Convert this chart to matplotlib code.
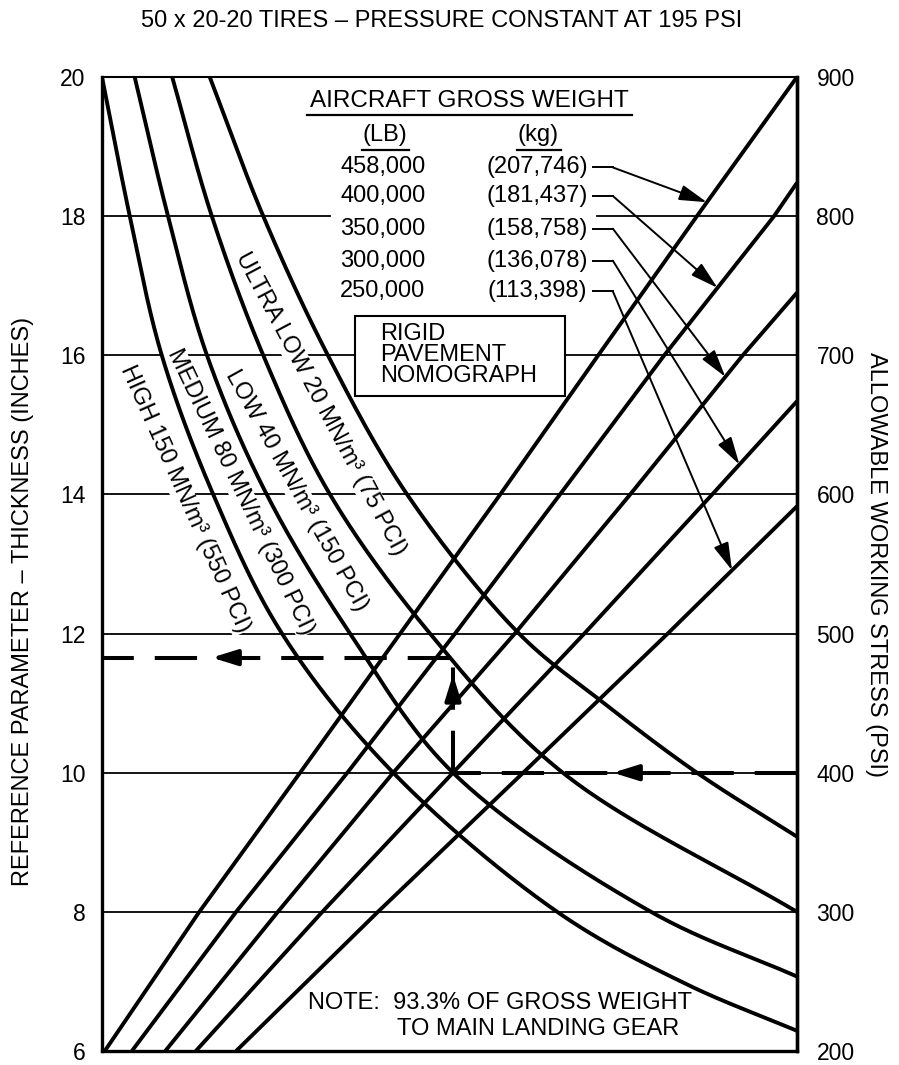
import numpy as np
import matplotlib
matplotlib.use("Agg")
import matplotlib.pyplot as plt
from matplotlib.patches import Rectangle

plt.rcParams['font.family'] = ['Liberation Sans', 'DejaVu Sans']
plt.rcParams['font.size'] = 17

# horizontal position runs 0..100 across the nomograph (no scale is printed)
# left scale: reference thickness (in), right scale: stress psi = 200 + 50*(t - 6)

# subgrade modulus curves: position across chart, thickness
high_x = [0, 4.0, 8.6, 16.0, 25.9, 41.9, 65.5, 83.9, 100]
high_t = [20, 18, 16, 14, 12, 10, 8, 6.97, 6.29]
med_x = [4.7, 9.5, 15.1, 23.7, 35.7, 50.5, 79.0, 100]
med_t = [20, 18, 16, 14, 12, 10, 8, 7.07]
low_x = [10.1, 15.8, 23.2, 32.8, 47.2, 66.3, 100]
low_t = [20, 18, 16, 14, 12, 10, 8.0]
ultra_x = [15.5, 23.2, 32.5, 43.9, 60.0, 71.7, 85.6, 100]
ultra_t = [20, 18, 16, 14, 12, 11.04, 10, 9.08]

subgrade_labels = ["HIGH 150 MN/m³ (550 PCI)", "MEDIUM 80 MN/m³ (300 PCI)",
                   "LOW 40 MN/m³ (150 PCI)", "ULTRA LOW 20 MN/m³ (75 PCI)"]

# gross weight lines
w1_x = [0.4, 14.0, 28.5, 42.9, 57.3, 71.4, 85.6, 100]
w1_t = [6, 8, 10, 12, 14, 16, 18, 20]
w2_x = [4.3, 19.3, 35.3, 50.8, 65.9, 80.9, 96.7, 100]
w2_t = [6, 8, 10, 12, 14, 16, 18, 18.48]
w3_x = [9.1, 25.3, 41.9, 59.4, 76.0, 92.2, 100]
w3_t = [6, 8, 10, 12, 14, 16, 16.9]
w4_x = [13.5, 31.7, 50.5, 69.4, 87.8, 100]
w4_t = [6, 8, 10, 12, 14, 15.34]
w5_x = [19.3, 39.7, 60.6, 81.4, 100]
w5_t = [6, 8, 10, 12, 13.83]

weight_lb = ["458,000", "400,000", "350,000", "300,000", "250,000"]
weight_kg = ["(207,746)", "(181,437)", "(158,758)", "(136,078)", "(113,398)"]
pointer_t = [18.2, 16.97, 15.69, 14.43, 12.91]   # where each pointer meets its line

example_psi = 400
example_line = 3      # 300,000 lb line
left_ticks = [6, 8, 10, 12, 14, 16, 18, 20]
right_ticks = [200, 300, 400, 500, 600, 700, 800, 900]


def smooth(xs, ys, n=40, alpha=0.5):
    # centripetal catmull-rom through the read points (t scaled ~ to screen proportions)
    P = np.column_stack([xs, np.asarray(ys, float) * 10.0])
    P = np.vstack([2 * P[0] - P[1], P, 2 * P[-1] - P[-2]])
    out = []
    for i in range(len(P) - 3):
        p0, p1, p2, p3 = P[i:i + 4]
        t0 = 0.0
        t1 = t0 + np.linalg.norm(p1 - p0) ** alpha
        t2 = t1 + np.linalg.norm(p2 - p1) ** alpha
        t3 = t2 + np.linalg.norm(p3 - p2) ** alpha
        t = np.linspace(t1, t2, n, endpoint=False)[:, None]
        a1 = (t1 - t) / (t1 - t0) * p0 + (t - t0) / (t1 - t0) * p1
        a2 = (t2 - t) / (t2 - t1) * p1 + (t - t1) / (t2 - t1) * p2
        a3 = (t3 - t) / (t3 - t2) * p2 + (t - t2) / (t3 - t2) * p3
        b1 = (t2 - t) / (t2 - t0) * a1 + (t - t0) / (t2 - t0) * a2
        b2 = (t3 - t) / (t3 - t1) * a2 + (t - t1) / (t3 - t1) * a3
        out.append((t2 - t) / (t2 - t1) * b1 + (t - t1) / (t2 - t1) * b2)
    out.append(P[-2][None])
    out = np.vstack(out)
    return out[:, 0], out[:, 1] / 10.0


fig = plt.figure(figsize=(8.99, 10.65), dpi=100)
ax = fig.add_axes([102 / 899, 14 / 1065, 695 / 899, 974 / 1065])
ax.set_xlim(0, 100)
ax.set_ylim(6, 20)

# grid lines (the 18 line is broken where the weight table sits)
for t in left_ticks[1:-1]:
    if t == 18:
        ax.plot([0, 32.8], [t, t], color='black', lw=1.3, zorder=1)
        ax.plot([71.2, 100], [t, t], color='black', lw=1.3, zorder=1)
    else:
        ax.plot([0, 100], [t, t], color='black', lw=1.3, zorder=1)

curves = [(high_x, high_t), (med_x, med_t), (low_x, low_t), (ultra_x, ultra_t)]
for cx, ct in curves:
    sx, st = smooth(cx, ct)
    ax.plot(sx, st, color='black', lw=2.8, zorder=3, solid_capstyle='butt')

weights = [(w1_x, w1_t), (w2_x, w2_t), (w3_x, w3_t), (w4_x, w4_t), (w5_x, w5_t)]
for wx, wt in weights:
    ax.plot(wx, wt, color='black', lw=2.8, zorder=3, solid_capstyle='butt')

# curve labels, sitting just left of their curve
label_pos = [(11.9, 13.93, -66.0), (19.9, 14.04, -64.5), (28.0, 14.05, -61.0), (31.5, 15.3, -62.0)]
for lab, (lx, lt, rot) in zip(subgrade_labels, label_pos):
    ax.text(lx, lt, lab, rotation=rot, rotation_mode='anchor', ha='center', va='center',
            fontsize=17, zorder=2,
            bbox=dict(facecolor='white', edgecolor='none', pad=0.5))

# weight table
ax.text(52.8, 19.66, "AIRCRAFT GROSS WEIGHT", ha='center', va='center', fontsize=17.5, zorder=4)
ax.plot([29.5, 76.2], [19.46, 19.46], color='black', lw=1.6, zorder=4)
ax.text(40.7, 19.16, "(LB)", ha='center', va='center', fontsize=17, zorder=4)
ax.plot([37.4, 44.2], [18.95, 18.95], color='black', lw=1.6, zorder=4)
ax.text(62.7, 19.16, "(kg)", ha='center', va='center', fontsize=17, zorder=4)
ax.plot([59.7, 66.0], [18.95, 18.95], color='black', lw=1.6, zorder=4)

row_t = [18.70, 18.29, 17.82, 17.36, 16.92]
for i, (lb, kg, rt) in enumerate(zip(weight_lb, weight_kg, row_t)):
    ax.text(40.4, rt, lb, ha='center', va='center', fontsize=17, zorder=4)
    ax.text(62.6, rt, kg, ha='center', va='center', fontsize=17, zorder=4)
    wx, wt = weights[i]
    tip_x = np.interp(pointer_t[i], wt, wx)
    ax.plot([70.6, 73.5], [rt, rt], color='black', lw=1.4, zorder=4)
    ax.annotate('', xy=(tip_x, pointer_t[i]), xytext=(73.5, rt),
                arrowprops=dict(arrowstyle='-|>,head_length=1.0,head_width=0.28',
                                color='black', lw=1.4, shrinkA=0, shrinkB=0), zorder=4)

# title box
ax.add_patch(Rectangle((36.4, 15.41), 30.2, 1.16, facecolor='white', edgecolor='black',
                       lw=1.5, zorder=4))
ax.text(40.0, 16.0, "RIGID\nPAVEMENT\nNOMOGRAPH", ha='left', va='center', fontsize=17,
        linespacing=0.95, zorder=5)

ax.text(29.6, 6.69, "NOTE:  93.3% OF GROSS WEIGHT", ha='left', va='center', fontsize=17, zorder=4)
ax.text(42.4, 6.31, "TO MAIN LANDING GEAR", ha='left', va='center', fontsize=17, zorder=4)

# worked example: 400 psi -> 300,000 lb line -> LOW subgrade curve -> thickness
ex_t0 = 6 + (example_psi - 200) / 50
wx, wt = weights[example_line]
ex_x = np.interp(ex_t0, wt, wx)
ex_t1 = np.interp(ex_x, low_x, low_t)
dash = dict(color='black', lw=2.9, dashes=(10.5, 5.2), zorder=5, solid_capstyle='butt')
ax.plot([100, ex_x], [ex_t0, ex_t0], **dash)
ax.plot([ex_x, ex_x], [ex_t0, ex_t1], **dash)
ax.plot([ex_x - 0.5, 0], [ex_t1, ex_t1], **dash)
head = dict(arrowstyle='-|>,head_length=0.9,head_width=0.28', color='black', lw=2.9,
            shrinkA=0, shrinkB=0)
ax.annotate('', xy=(73.5, ex_t0), xytext=(77.0, ex_t0), arrowprops=head, zorder=6)
ax.annotate('', xy=(ex_x, 11.41), xytext=(ex_x, 11.1), arrowprops=head, zorder=6)
ax.annotate('', xy=(15.8, ex_t1), xytext=(19.5, ex_t1), arrowprops=head, zorder=6)

# axes
ax.set_xticks([])
ax.set_yticks(left_ticks)
ax.tick_params(axis='y', length=0, pad=12, labelsize=16.5)
ax.spines['left'].set_linewidth(2.4)
ax.spines['right'].set_linewidth(2.4)
ax.spines['bottom'].set_linewidth(2.4)
ax.spines['top'].set_linewidth(1.5)
ax.text(-0.114, 0.462, "REFERENCE PARAMETER – THICKNESS (INCHES)", transform=ax.transAxes,
        rotation=90, ha='center', va='center', fontsize=17)

sec = ax.secondary_yaxis('right', functions=(lambda t: 200 + 50 * (t - 6),
                                             lambda p: 6 + (p - 200) / 50))
sec.set_yticks(right_ticks)
sec.tick_params(length=0, pad=14, labelsize=16.5)
sec.spines['right'].set_linewidth(2.4)
ax.text(1.114, 0.499, "ALLOWABLE WORKING STRESS (PSI)", transform=ax.transAxes,
        rotation=-90, ha='center', va='center', fontsize=17)

ax.text(0.488, 1.057, "50 x 20-20 TIRES – PRESSURE CONSTANT AT 195 PSI", transform=ax.transAxes,
        ha='center', va='center', fontsize=17)

fig.savefig("out.png", dpi=100)
